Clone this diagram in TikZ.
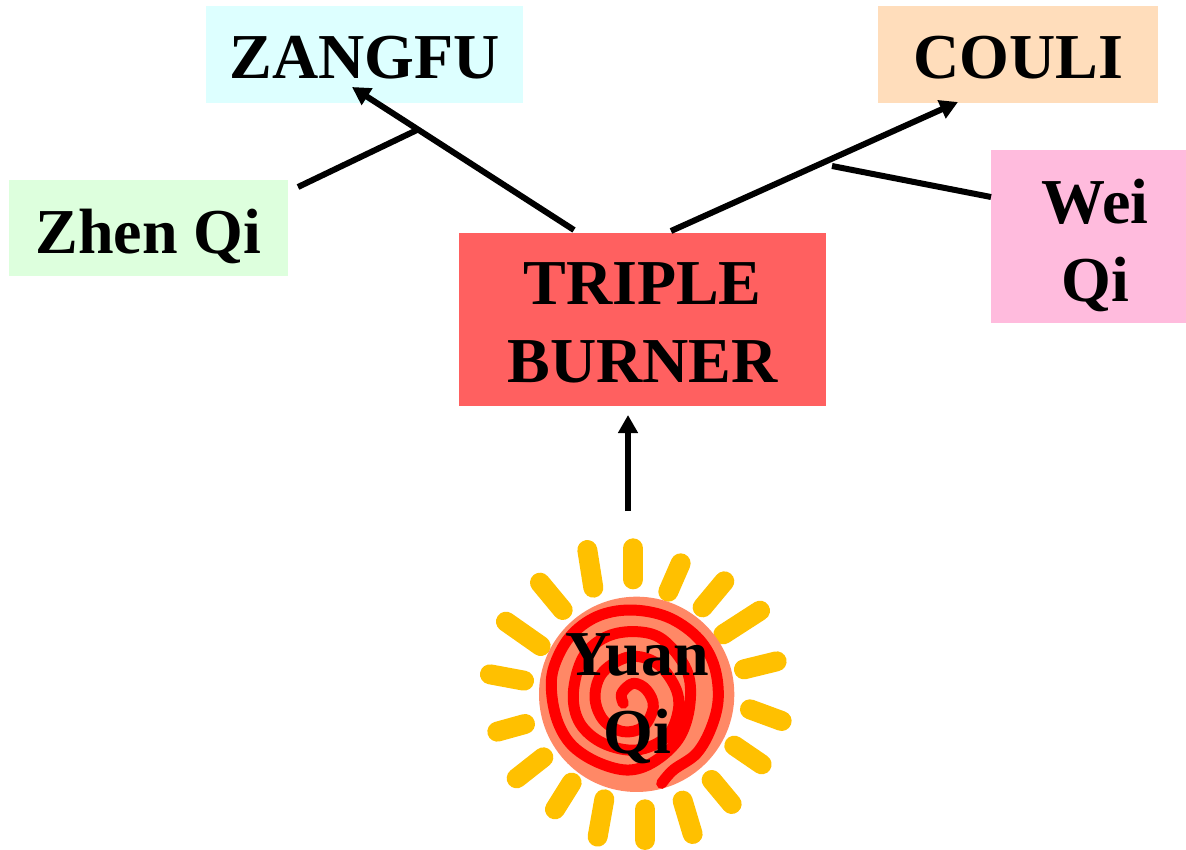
\documentclass[tikz,border=0pt]{standalone}
\usepackage{fontspec}
\setmainfont{Liberation Serif}
\usetikzlibrary{arrows.meta}
\definecolor{zangc}{HTML}{DDFFFF}
\definecolor{coulic}{HTML}{FFDDBB}
\definecolor{zhenc}{HTML}{DDFFDD}
\definecolor{weic}{HTML}{FFBBDD}
\definecolor{burnc}{HTML}{FF6060}
\definecolor{sunc}{HTML}{FF8866}
\definecolor{rayc}{HTML}{FFC000}
\tikzset{
  lbl/.style={font=\fontsize{64}{78}\selectfont\bfseries,align=center,inner sep=0pt,text=black},
  plate/.style={inner sep=0pt,minimum width=#1},
  conn/.style={line width=6pt,draw=black},
  arr/.style={conn,-{Triangle[length=18pt,width=19pt]}},
  ray/.style={line width=20pt,draw=rayc,line cap=round},
}
\begin{document}
\begin{tikzpicture}[x=1pt,y=-1pt]
\useasboundingbox (0,0) rectangle (1186,849);
% boxes
\node[plate=317pt,fill=zangc,minimum height=97pt] (zangfubox) at (364.5,54.5) {};
\node[plate=280pt,fill=coulic,minimum height=97pt] (coulibox) at (1018,54.5) {};
\node[plate=279pt,fill=zhenc,minimum height=96pt] (zhenbox) at (148.5,228) {};
\node[plate=195pt,fill=weic,minimum height=173pt] (weibox) at (1088.5,236.5) {};
\node[plate=367pt,fill=burnc,minimum height=173pt] (burnbox) at (642.5,319.5) {};
% sun
\begin{scope}[shift={(470,520)},x=0.3333pt,y=-0.3333pt]
\foreach \a/\b/\c/\d in {490/85/490/178,632/130/595/215,763/184/698/262,870/272/760/343,920/424/822/448,935/603/840/568,875/733/793/677,785/852/725/780,668/942/638/842,525/960/525/868,383/950/403/838,255/868/305/788,140/775/220/712,82/635/165/612,60/463/162/482,108/305/212/378,210/188/278/270,352/90/370/203}
  \draw[ray] (\a,\b) -- (\c,\d);
\fill[sunc] (500,523) circle (293);
\end{scope}
\begin{scope}[shift={(540,600)},x=0.3333pt,y=-0.3333pt]
\draw[red,line width=11pt,line cap=round,line join=round] plot[smooth,tension=0.6] coordinates {(365,550) (400,510) (470,460) (515,380) (535,290) (520,190) (470,110) (380,50) (270,30) (170,50) (90,110) (42,200) (35,280) (55,370) (100,440) (180,490) (270,510) (350,480) (420,410) (450,310) (440,210) (370,120) (290,95) (200,110) (130,170) (100,280) (120,370) (190,430) (290,450) (380,410) (415,330) (405,260) (350,190) (270,170) (190,215) (165,290) (190,360) (250,395) (310,380) (340,320) (320,270) (280,250) (245,280) (250,310)};
\end{scope}
% text
\node[lbl] (zangfu) at (364.5,58) {ZANGFU};
\node[lbl] (couli) at (1018,58) {COULI};
\node[lbl] (zhen) at (148.5,236) {Zhen Qi};
\node[lbl] (wei) at (1095,245) {Wei\\Qi};
\node[lbl] (burner) at (642.5,323) {TRIPLE\\BURNER};
\node[lbl] (yuan) at (637,699) {Yuan\\Qi};
% connectors
\coordinate (burnL) at (574,230);
\coordinate (burnR) at (671,231);
\coordinate (zangE) at (352,87);
\coordinate (couliE) at (958,102);
\coordinate (zhenE) at (298,187);
\coordinate (joinL) at (417,130);
\coordinate (weiE) at (991,197);
\coordinate (joinR) at (832,166);
\coordinate (sunTop) at (628,511);
\coordinate (burnB) at (628,415);
\draw[arr] (burnL) -- (zangE);
\draw[arr] (burnR) -- (couliE);
\draw[conn] (zhenE) -- (joinL);
\draw[conn] (weiE) -- (joinR);
\draw[arr] (sunTop) -- (burnB);
\end{tikzpicture}
\end{document}
